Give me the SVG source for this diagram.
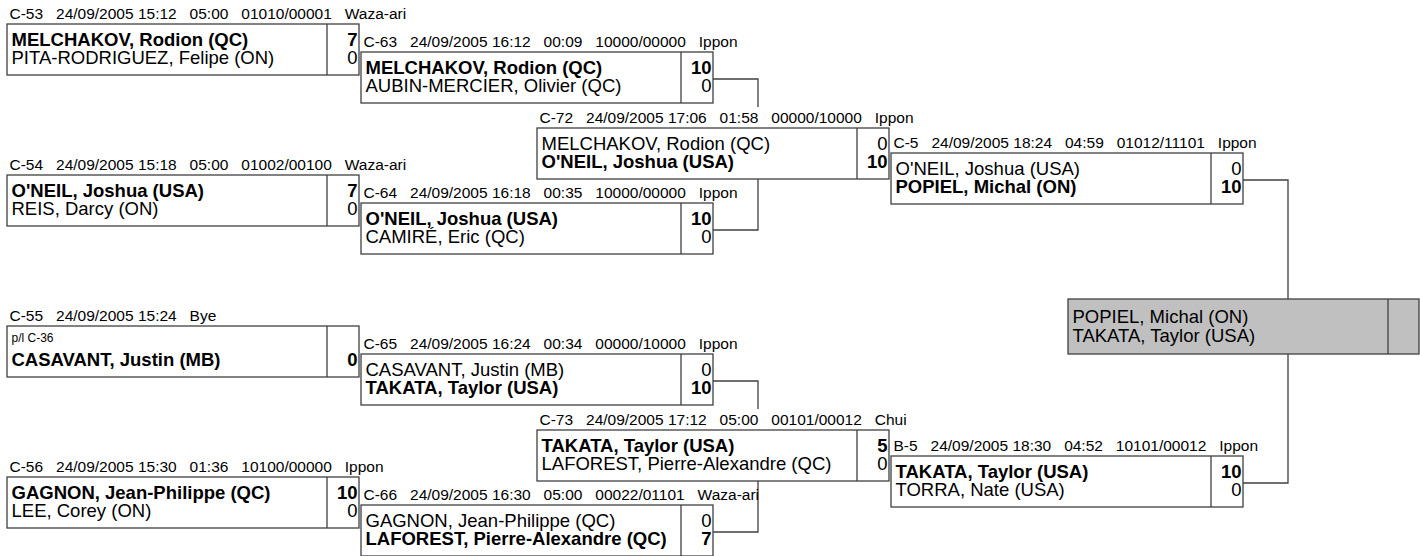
<svg xmlns="http://www.w3.org/2000/svg" width="1420" height="556" viewBox="0 0 1420 556">
<style>
text{font-family:"Liberation Sans",Arial,sans-serif;fill:#000}
.hb{fill:#fff;stroke:none}
.box{fill:#fff;stroke:#404040;stroke-width:1.3}
.fin{fill:#c0c0c0;stroke:#404040;stroke-width:1.3}
.dv{stroke:#404040;stroke-width:1.3}
.hdr{font-size:15.5px}
.nm{font-size:18.5px}
.sm{font-size:12px}
.b{font-weight:bold}
.sc{text-anchor:end}
.cn{fill:none;stroke:#404040;stroke-width:1.3}
</style>
<rect width="1420" height="556" fill="#fff"/>
<g id="connectors">
<path class="cn" d="M713 79 H758 V230 H713"/>
<path class="cn" d="M713 381 H758 V532 H713"/>
<path class="cn" d="M1243 180 H1288 V483 H1243"/>
</g>
<g id="C-53" transform="translate(7,24)">
<rect class="hb" y="-21" width="352" height="21"/>
<text class="hdr" x="2.5" y="-5" xml:space="preserve">C-53   24/09/2005 15:12   05:00   01010/00001   Waza-ari</text>
<rect class="box" width="352" height="51"/><line class="dv" x1="320" y1="0" x2="320" y2="51"/>
<text class="nm b" x="4.5" y="21.5">MELCHAKOV, Rodion (QC)</text>
<text class="nm" x="4.5" y="40">PITA-RODRIGUEZ, Felipe (ON)</text>
<text class="nm b sc" x="350.5" y="21.5">7</text>
<text class="nm sc" x="350.5" y="40">0</text>
</g>
<g id="C-54" transform="translate(7,175)">
<rect class="hb" y="-21" width="352" height="21"/>
<text class="hdr" x="2.5" y="-5" xml:space="preserve">C-54   24/09/2005 15:18   05:00   01002/00100   Waza-ari</text>
<rect class="box" width="352" height="51"/><line class="dv" x1="320" y1="0" x2="320" y2="51"/>
<text class="nm b" x="4.5" y="21.5">O'NEIL, Joshua (USA)</text>
<text class="nm" x="4.5" y="40">REIS, Darcy (ON)</text>
<text class="nm b sc" x="350.5" y="21.5">7</text>
<text class="nm sc" x="350.5" y="40">0</text>
</g>
<g id="C-55" transform="translate(7,326)">
<rect class="hb" y="-21" width="352" height="21"/>
<text class="hdr" x="2.5" y="-5" xml:space="preserve">C-55   24/09/2005 15:24   Bye</text>
<rect class="box" width="352" height="51"/><line class="dv" x1="320" y1="0" x2="320" y2="51"/>
<text class="sm" x="4.5" y="16">p/l C-36</text>
<text class="nm b" x="4.5" y="40">CASAVANT, Justin (MB)</text>
<text class="nm b sc" x="350.5" y="40">0</text>
</g>
<g id="C-56" transform="translate(7,477)">
<rect class="hb" y="-21" width="352" height="21"/>
<text class="hdr" x="2.5" y="-5" xml:space="preserve">C-56   24/09/2005 15:30   01:36   10100/00000   Ippon</text>
<rect class="box" width="352" height="51"/><line class="dv" x1="320" y1="0" x2="320" y2="51"/>
<text class="nm b" x="4.5" y="21.5">GAGNON, Jean-Philippe (QC)</text>
<text class="nm" x="4.5" y="40">LEE, Corey (ON)</text>
<text class="nm b sc" x="350.5" y="21.5">10</text>
<text class="nm sc" x="350.5" y="40">0</text>
</g>
<g id="C-63" transform="translate(361,52)">
<rect class="hb" y="-21" width="352" height="21"/>
<text class="hdr" x="2.5" y="-5" xml:space="preserve">C-63   24/09/2005 16:12   00:09   10000/00000   Ippon</text>
<rect class="box" width="352" height="51"/><line class="dv" x1="320" y1="0" x2="320" y2="51"/>
<text class="nm b" x="4.5" y="21.5">MELCHAKOV, Rodion (QC)</text>
<text class="nm" x="4.5" y="40">AUBIN-MERCIER, Olivier (QC)</text>
<text class="nm b sc" x="350.5" y="21.5">10</text>
<text class="nm sc" x="350.5" y="40">0</text>
</g>
<g id="C-64" transform="translate(361,203)">
<rect class="hb" y="-21" width="352" height="21"/>
<text class="hdr" x="2.5" y="-5" xml:space="preserve">C-64   24/09/2005 16:18   00:35   10000/00000   Ippon</text>
<rect class="box" width="352" height="51"/><line class="dv" x1="320" y1="0" x2="320" y2="51"/>
<text class="nm b" x="4.5" y="21.5">O'NEIL, Joshua (USA)</text>
<text class="nm" x="4.5" y="40">CAMIRÉ, Eric (QC)</text>
<text class="nm b sc" x="350.5" y="21.5">10</text>
<text class="nm sc" x="350.5" y="40">0</text>
</g>
<g id="C-65" transform="translate(361,354)">
<rect class="hb" y="-21" width="352" height="21"/>
<text class="hdr" x="2.5" y="-5" xml:space="preserve">C-65   24/09/2005 16:24   00:34   00000/10000   Ippon</text>
<rect class="box" width="352" height="51"/><line class="dv" x1="320" y1="0" x2="320" y2="51"/>
<text class="nm" x="4.5" y="21.5">CASAVANT, Justin (MB)</text>
<text class="nm b" x="4.5" y="40">TAKATA, Taylor (USA)</text>
<text class="nm sc" x="350.5" y="21.5">0</text>
<text class="nm b sc" x="350.5" y="40">10</text>
</g>
<g id="C-66" transform="translate(361,505)">
<rect class="hb" y="-21" width="352" height="21"/>
<text class="hdr" x="2.5" y="-5" xml:space="preserve">C-66   24/09/2005 16:30   05:00   00022/01101   Waza-ari</text>
<rect class="box" width="352" height="51"/><line class="dv" x1="320" y1="0" x2="320" y2="51"/>
<text class="nm" x="4.5" y="21.5">GAGNON, Jean-Philippe (QC)</text>
<text class="nm b" x="4.5" y="40">LAFOREST, Pierre-Alexandre (QC)</text>
<text class="nm sc" x="350.5" y="21.5">0</text>
<text class="nm b sc" x="350.5" y="40">7</text>
</g>
<g id="C-72" transform="translate(537,128)">
<rect class="hb" y="-21" width="352" height="21"/>
<text class="hdr" x="2.5" y="-5" xml:space="preserve">C-72   24/09/2005 17:06   01:58   00000/10000   Ippon</text>
<rect class="box" width="352" height="51"/><line class="dv" x1="320" y1="0" x2="320" y2="51"/>
<text class="nm" x="4.5" y="21.5">MELCHAKOV, Rodion (QC)</text>
<text class="nm b" x="4.5" y="40">O'NEIL, Joshua (USA)</text>
<text class="nm sc" x="350.5" y="21.5">0</text>
<text class="nm b sc" x="350.5" y="40">10</text>
</g>
<g id="C-73" transform="translate(537,430)">
<rect class="hb" y="-21" width="352" height="21"/>
<text class="hdr" x="2.5" y="-5" xml:space="preserve">C-73   24/09/2005 17:12   05:00   00101/00012   Chui</text>
<rect class="box" width="352" height="51"/><line class="dv" x1="320" y1="0" x2="320" y2="51"/>
<text class="nm b" x="4.5" y="21.5">TAKATA, Taylor (USA)</text>
<text class="nm" x="4.5" y="40">LAFOREST, Pierre-Alexandre (QC)</text>
<text class="nm b sc" x="350.5" y="21.5">5</text>
<text class="nm sc" x="350.5" y="40">0</text>
</g>
<g id="C-5" transform="translate(891,153)">
<rect class="hb" y="-21" width="352" height="21"/>
<text class="hdr" x="2.5" y="-5" xml:space="preserve">C-5   24/09/2005 18:24   04:59   01012/11101   Ippon</text>
<rect class="box" width="352" height="51"/><line class="dv" x1="320" y1="0" x2="320" y2="51"/>
<text class="nm" x="4.5" y="21.5">O'NEIL, Joshua (USA)</text>
<text class="nm b" x="4.5" y="40">POPIEL, Michal (ON)</text>
<text class="nm sc" x="350.5" y="21.5">0</text>
<text class="nm b sc" x="350.5" y="40">10</text>
</g>
<g id="B-5" transform="translate(891,456)">
<rect class="hb" y="-21" width="352" height="21"/>
<text class="hdr" x="2.5" y="-5" xml:space="preserve">B-5   24/09/2005 18:30   04:52   10101/00012   Ippon</text>
<rect class="box" width="352" height="51"/><line class="dv" x1="320" y1="0" x2="320" y2="51"/>
<text class="nm b" x="4.5" y="21.5">TAKATA, Taylor (USA)</text>
<text class="nm" x="4.5" y="40">TORRA, Nate (USA)</text>
<text class="nm b sc" x="350.5" y="21.5">10</text>
<text class="nm sc" x="350.5" y="40">0</text>
</g>
<g id="final" transform="translate(1068,299)">
<rect class="fin" width="351" height="55"/><line class="dv" x1="320" y1="0" x2="320" y2="55"/>
<text class="nm" x="4.5" y="24">POPIEL, Michal (ON)</text>
<text class="nm" x="4.5" y="43">TAKATA, Taylor (USA)</text>
</g>
</svg>
